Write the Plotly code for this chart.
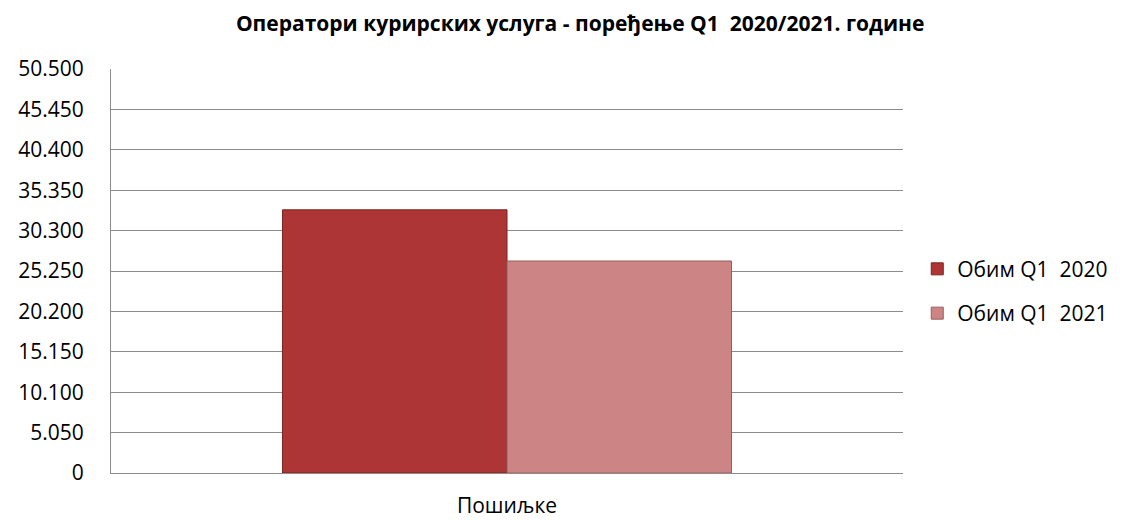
import plotly.graph_objects as go

categories = ["Пошиљке"]
series_names = ["Обим Q1  2020", "Обим Q1  2021"]
values_2020 = [32900]
values_2021 = [26500]
tick_vals = [0, 5050, 10100, 15150, 20200, 25250, 30300, 35350, 40400, 45450, 50500]

colors = ["#ae3535", "#cc8584"]
line_colors = ["#7a2222", "#9a5c5c"]

fig = go.Figure()
for i, (name, vals) in enumerate(zip(series_names, [values_2020, values_2021])):
    fig.add_trace(go.Bar(
        x=categories, y=vals, name=name,
        marker=dict(color=colors[i], line=dict(color=line_colors[i], width=1)),
        legendgroup=f"g{i}",
    ))

fig.update_layout(
    width=1124, height=520,
    barmode="group", bargap=0.433, bargroupgap=0,
    separators=",.",
    paper_bgcolor="white", plot_bgcolor="white",
    margin=dict(l=103, r=229, t=61, b=55, autoexpand=False),
    font=dict(family="Open Sans, Liberation Sans, sans-serif", size=21, color="#000000"),
    title=dict(text="<b>Оператори курирских услуга - поређење Q1  2020/2021. године</b>",
               x=0.509, xanchor="center", y=1.0, yanchor="top",
               pad=dict(t=8),
               font=dict(size=21, color="#000000")),
    legend=dict(x=1.018, xanchor="left", y=0.45, yanchor="middle",
                traceorder="grouped", tracegroupgap=14,
                font=dict(size=21), itemwidth=30),
    yaxis=dict(range=[0, 50500], tickvals=tick_vals, tickformat=",d",
               showgrid=True, gridcolor="#8c8c8c", gridwidth=1,
               showline=True, linecolor="#8c8c8c", linewidth=1,
               zeroline=False, ticks="outside", ticklen=22, automargin=False,
               tickcolor="rgba(0,0,0,0)", tickfont=dict(size=21)),
    xaxis=dict(showline=True, linecolor="#8c8c8c", linewidth=1,
               ticks="outside", ticklen=14, tickcolor="rgba(0,0,0,0)",
               automargin=False, tickfont=dict(size=21)),
)

fig.write_html("out.html")
